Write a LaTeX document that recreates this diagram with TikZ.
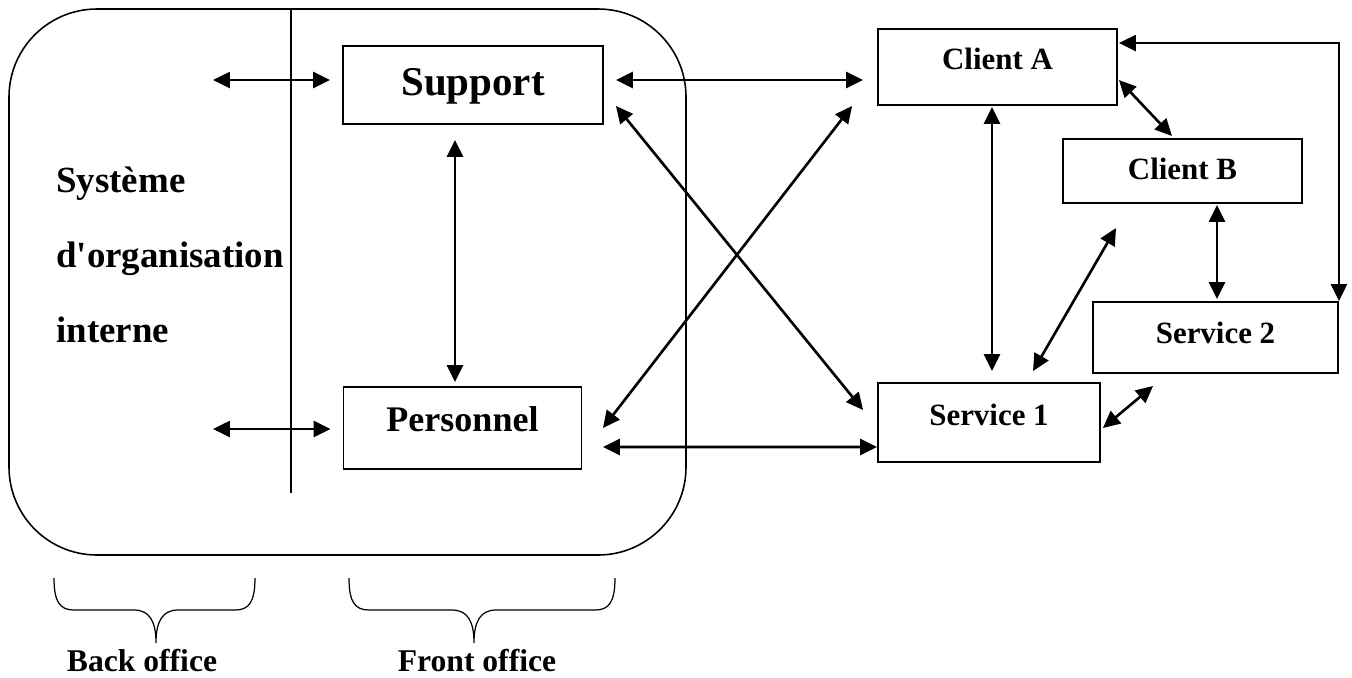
\documentclass[tikz,border=0pt]{standalone}
\usepackage{fontspec}
\setmainfont{Liberation Serif}[Ligatures=TeXOff]
\usetikzlibrary{calc,arrows.meta}

\tikzset{
  box/.style={shape=rectangle,draw=black,line width=1.1pt,inner sep=0pt},
  tip/.tip={Triangle[length=0.34cm,width=0.32cm]},
  link/.style={line width=1.5pt,tip-tip},
  small/.style={font=\bfseries\fontsize{17.6}{21}\selectfont,text height=0.408cm}
}

\begin{document}
\begin{tikzpicture}[x=0.02cm,y=-0.02cm]
\useasboundingbox (0,0) rectangle (1352,677);
\draw[line width=0.9pt,rounded corners=1.76cm] (9,9) rectangle (686,555);
\draw[line width=0.8pt] (291,9) -- (291,493);
\node[anchor=west,align=left,inner sep=0pt,font=\bfseries\fontsize{21}{42.7}\selectfont] (sys) at (56,255) {Système\\d'organisation\\interne};
\node[box,minimum width=5.2cm,minimum height=1.56cm,text height=0.541cm,text depth=0.12cm,font=\bfseries\fontsize{23.3}{28}\selectfont] (sup) at (473,85) {Support};
\node[box,minimum width=4.76cm,minimum height=1.64cm,text height=0.475cm,text depth=0.32cm,font=\bfseries\fontsize{20.5}{25}\selectfont] (per) at (462.5,428) {Personnel};
\node[box,small,minimum width=4.78cm,minimum height=1.52cm,text depth=0.32cm] (cA) at (997.5,67) {Client A};
\node[box,small,minimum width=4.78cm,minimum height=1.28cm,text depth=0.08cm] (cB) at (1182.5,171) {Client B};
\node[box,small,minimum width=4.9cm,minimum height=1.42cm,text depth=0.18cm] (s2) at (1215.5,337.5) {Service 2};
\node[box,small,minimum width=4.44cm,minimum height=1.58cm,text depth=0.3cm] (s1) at (989,422.5) {Service 1};
\coordinate (bo1) at (213,80);
\coordinate (bo2) at (213,429);
\draw[link] (bo1) -- ($(bo1 -| sup.west)+(-12,0)$);
\draw[link] (bo2) -- ($(bo2 -| per.west)+(-12,0)$);
\draw[link] ($(sup.south)+(-18,15)$) -- ($(per.north)+(-7.5,-4)$);
\draw[link] ($(sup.east)+(12,-5)$) -- ($(cA.west)+(-14,13)$);
\draw[link] ($(sup.south east)+(12,-19)$) -- ($(s1.west)+(-14,-12.5)$);
\draw[link] ($(per.east)+(20.5,0)$) -- ($(cA.south west)+(-25,0)$);
\draw[link] ($(per.east)+(20.5,19)$) -- ($(s1.west)+(0,24.5)$);
\draw[link] ($(cA.south)+(-5.5,1)$) -- ($(s1.north)+(3,-11)$);
\draw[link] ($(cA.east)+(1,13)$) -- ($(cB.north)+(-10.5,-2)$);
\draw[link] ($(cA.north east)+(1,15)$) -| (s2.north east);
\draw[link] ($(cB.south)+(34.5,1)$) -- ($(s2.north)+(1.5,-2)$);
\draw[link] ($(s1.north)+(44,-11)$) -- ($(cB.south west)+(54,24)$);
\draw[link] ($(s1.east)+(2,5.5)$) -- ($(s2.south west)+(61,12)$);
% accolades
\draw[line width=0.7pt] (54,578) .. controls (54,602) and (60,610) .. (74,610) -- (134,610) .. controls (150,610) and (156,622) .. (156,643) .. controls (156,622) and (162,610) .. (178,610) -- (235,610) .. controls (249,610) and (255,602) .. (255,578);
\draw[line width=0.7pt] (349,578) .. controls (349,602) and (355,610) .. (369,610) -- (452,610) .. controls (468,610) and (474,622) .. (474,643) .. controls (474,622) and (480,610) .. (496,610) -- (595,610) .. controls (609,610) and (615,602) .. (615,578);
\node[font=\bfseries\fontsize{18}{21}\selectfont] (bo) at (142,661) {Back office};
\node[font=\bfseries\fontsize{18}{21}\selectfont] (fo) at (477,661) {Front office};
\end{tikzpicture}
\end{document}
